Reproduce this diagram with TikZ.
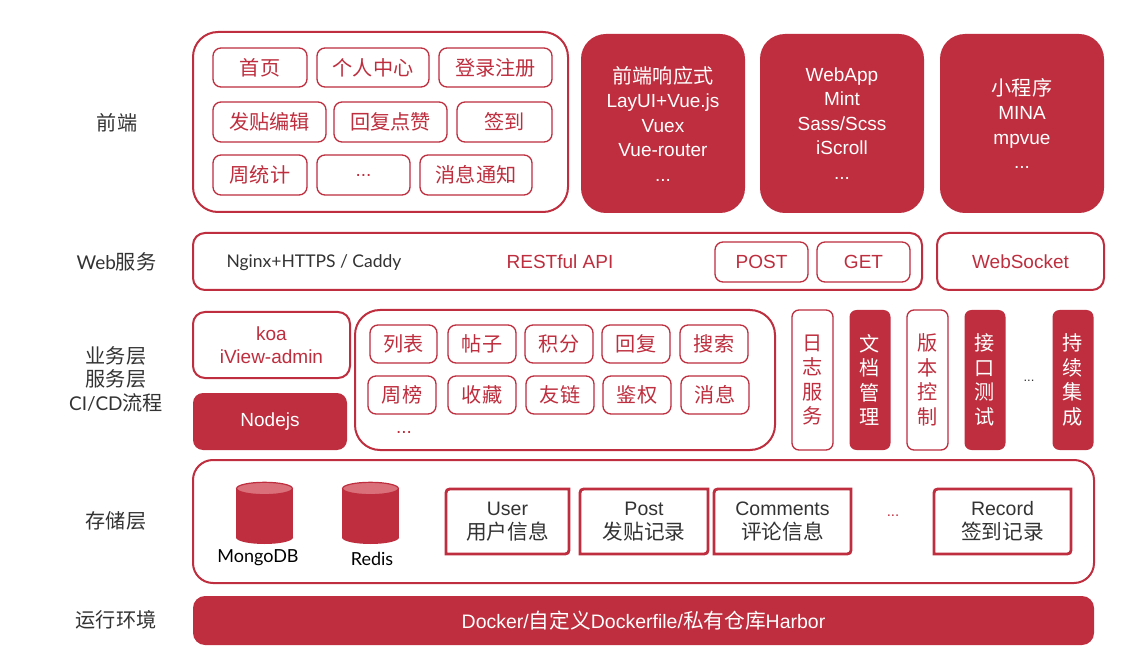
\documentclass[tikz,border=0pt]{standalone}
\usepackage{fontspec}
\setmainfont{Liberation Sans}
\newfontfamily\cjk[Scale=1.06]{Noto Sans CJK SC}
\newfontfamily\lato{Lato}
\newcommand\zh[1]{{\cjk #1}}
\definecolor{myred}{RGB}{190,46,62}
\definecolor{mypink}{RGB}{217,112,122}
\definecolor{dgray}{RGB}{51,51,51}
\begin{document}
\begin{tikzpicture}[x=1pt,y=-1pt,
  base/.style={inner sep=0pt, outer sep=0pt, align=center, font=\fontsize{19}{24.5}\selectfont},
  grp/.style={draw=myred, line width=2pt, fill=white, inner sep=0pt, outer sep=0pt},
  obtn/.style={base, draw=myred, line width=1.3pt, rounded corners=8pt, text=myred, fill=white},
  fbtn/.style={base, fill=myred, text=white},
  vbtn/.style={base, minimum width=41, minimum height=140, rounded corners=7pt},
  lbl/.style={base, text=dgray},
  stbox/.style={base, text=dgray, minimum height=65, font=\fontsize{19.5}{24}\selectfont},
  stline/.style={draw=myred, line width=2.8pt},
  cyl/.style={fill=myred}
]
\useasboundingbox (0,0) rectangle (1128,655);
\fill[white] (0,0) rectangle (1128,655);

% ---------- left labels ----------
\node[lbl] (lfe) at (117,123) {\zh{前端}};
\node[lbl] (lweb) at (116.5,262) {{\lato Web}\zh{服务}};
\node[lbl, font=\fontsize{19}{23.5}\selectfont] (lbiz) at (116,379) {\zh{业务层}\\\zh{服务层}\\{\lato CI/CD}\zh{流程}};
\node[lbl] (lsto) at (116,521) {\zh{存储层}};
\node[lbl] (lrun) at (116,620) {\zh{运行环境}};

% ---------- front end ----------
\node[grp, rounded corners=25pt, minimum width=375, minimum height=180] (fe) at (380.5,122) {};
\node[obtn, minimum width=94, minimum height=39] (home) at (260,67.5) {\zh{首页}};
\node[obtn, minimum width=112, minimum height=39] (ucenter) at (373,67.5) {\zh{个人中心}};
\node[obtn, minimum width=113, minimum height=39] (login) at (495.5,67.5) {\zh{登录注册}};
\node[obtn, minimum width=113, minimum height=40] (edit) at (269.5,122) {\zh{发贴编辑}};
\node[obtn, minimum width=113, minimum height=40] (reply) at (390.5,122) {\zh{回复点赞}};
\node[obtn, minimum width=95, minimum height=40] (sign) at (504.5,122) {\zh{签到}};
\node[obtn, minimum width=94, minimum height=40] (week) at (260,175) {\zh{周统计}};
\node[obtn, minimum width=93, minimum height=40] (fedots) at (363.5,175) {...};
\node[obtn, minimum width=112, minimum height=40] (notify) at (476,175) {\zh{消息通知}};

\node[fbtn, rounded corners=25pt, minimum width=164, minimum height=179] (resp) at (663,123.5)
  {\zh{前端响应式}\\LayUI+Vue.js\\Vuex\\Vue-router\\...};
\node[fbtn, rounded corners=25pt, minimum width=164, minimum height=179] (webapp) at (842,123.5)
  {WebApp\\Mint\\Sass/Scss\\iScroll\\...};
\node[fbtn, rounded corners=25pt, minimum width=164, minimum height=179] (mini) at (1022,123.5)
  {\zh{小程序}\\MINA\\mpvue\\...};

% ---------- web services ----------
\node[grp, rounded corners=12pt, minimum width=729, minimum height=57] (web) at (557.5,261.5) {};
\node[lbl, font=\lato\fontsize{17.5}{20}\selectfont] (nginx) at (314,263) {Nginx+HTTPS / Caddy};
\node[base, text=myred] (rest) at (560,262) {RESTful API};
\node[obtn, minimum width=93, minimum height=40] (post) at (761.5,262) {POST};
\node[obtn, minimum width=93, minimum height=40] (get) at (863.5,262) {GET};
\node[grp, base, rounded corners=12pt, minimum width=167, minimum height=57, text=myred] (ws) at (1020.5,261.5) {WebSocket};

% ---------- business layer ----------
\node[grp, base, rounded corners=12pt, minimum width=157, minimum height=66, text=myred] (koa) at (271.5,345) {koa\\[-1pt]iView-admin};
\node[fbtn, rounded corners=10pt, minimum width=154, minimum height=57] (node) at (270,421.5) {Nodejs};
\node[grp, rounded corners=25pt, minimum width=420, minimum height=140] (biz) at (565,380) {};
\node[obtn, minimum width=67, minimum height=38] (b1) at (403.5,344) {\zh{列表}};
\node[obtn, minimum width=68, minimum height=38] (b2) at (482,344) {\zh{帖子}};
\node[obtn, minimum width=68, minimum height=38] (b3) at (559,344) {\zh{积分}};
\node[obtn, minimum width=68, minimum height=38] (b4) at (636,344) {\zh{回复}};
\node[obtn, minimum width=68, minimum height=38] (b5) at (714,344) {\zh{搜索}};
\node[obtn, minimum width=68, minimum height=38] (b6) at (402,395) {\zh{周榜}};
\node[obtn, minimum width=68, minimum height=38] (b7) at (482,395) {\zh{收藏}};
\node[obtn, minimum width=68, minimum height=38] (b8) at (560,395) {\zh{友链}};
\node[obtn, minimum width=68, minimum height=38] (b9) at (637,395) {\zh{鉴权}};
\node[obtn, minimum width=68, minimum height=38] (b10) at (715,395) {\zh{消息}};
\node[base, text=myred] (bizdots) at (404,432) {...};

\node[obtn, vbtn] (log) at (812.5,380) {\zh{日}\\\zh{志}\\\zh{服}\\\zh{务}};
\node[fbtn, vbtn] (doc) at (870,380) {\zh{文}\\\zh{档}\\\zh{管}\\\zh{理}};
\node[obtn, vbtn] (ver) at (927.5,380) {\zh{版}\\\zh{本}\\\zh{控}\\\zh{制}};
\node[fbtn, vbtn] (api) at (985,380) {\zh{接}\\\zh{口}\\\zh{测}\\\zh{试}};
\node[base, text=dgray, font=\fontsize{13}{15}\selectfont] (vdots) at (1029,381) {...};
\node[fbtn, vbtn] (ci) at (1073,380) {\zh{持}\\\zh{续}\\\zh{集}\\\zh{成}};

% ---------- storage ----------
\node[grp, rounded corners=20pt, minimum width=901, minimum height=123] (store) at (643.5,521.5) {};
% cylinders
\fill[cyl] (236,488.5) rectangle (293,537.5);
\fill[cyl] (264.5,537.5) ellipse [x radius=28.5, y radius=6.5];
\filldraw[fill=mypink, draw=myred, line width=1.2pt] (264.5,488.5) ellipse [x radius=27.9, y radius=6.2];
\fill[cyl] (342,488.5) rectangle (399,537.5);
\fill[cyl] (370.5,537.5) ellipse [x radius=28.5, y radius=6.5];
\filldraw[fill=mypink, draw=myred, line width=1.2pt] (370.5,488.5) ellipse [x radius=27.9, y radius=6.2];
\node[base, text=black, font=\lato\fontsize{18}{20}\selectfont] (mongo) at (258,558) {MongoDB};
\node[base, text=black, font=\lato\fontsize{18}{20}\selectfont] (redis) at (372,559) {Redis};

\node[stbox, minimum width=123] (user) at (507.5,521.5) {User\\\zh{用户信息}};
\node[stbox, minimum width=128] (postrec) at (644,521.5) {Post\\\zh{发贴记录}};
\node[stbox, minimum width=137] (comm) at (782.5,521.5) {Comments\\\zh{评论信息}};
\node[stbox, minimum width=137] (rec) at (1002.5,521.5) {Record\\\zh{签到记录}};
\node[base, text=myred, font=\fontsize{15}{17}\selectfont] (stdots) at (893,516) {...};
\foreach \n in {user,postrec,comm,rec}{
  \draw[stline] (\n.north east) -- ([yshift=8pt]\n.south east)
    .. controls (\n.south east) .. ([xshift=-8pt]\n.south east)
    -- (\n.south west) -- ([yshift=-8pt]\n.north west)
    .. controls (\n.north west) .. ([xshift=8pt]\n.north west) -- cycle;
}

% ---------- runtime ----------
\node[fbtn, rounded corners=12pt, minimum width=901, minimum height=49, font=\fontsize{19.5}{22}\selectfont] (docker) at (643.5,620.5)
  {Docker/\zh{自定义}Dockerfile/\zh{私有仓库}Harbor};
\end{tikzpicture}
\end{document}
